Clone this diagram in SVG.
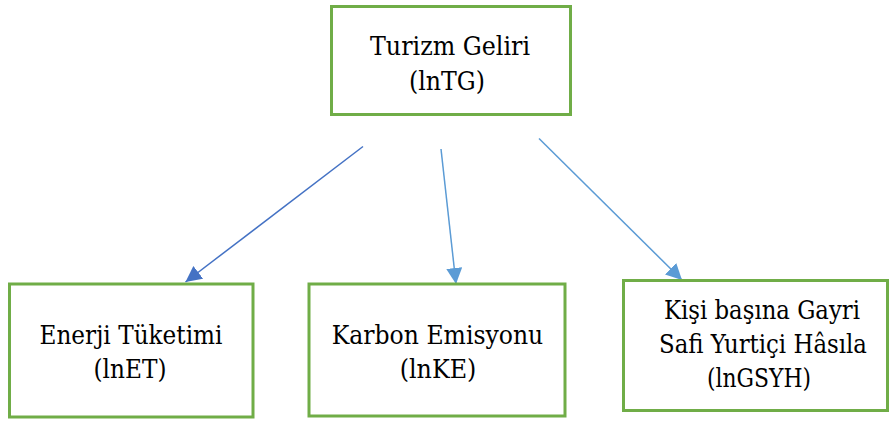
<svg xmlns="http://www.w3.org/2000/svg" width="890" height="421" viewBox="0 0 890 421">
<style>
.box{fill:#fff;stroke:#70AD47;stroke-width:3}
.t{font-family:'DejaVu Serif',serif;font-size:26.3px;fill:#000;text-anchor:middle}
.c1{stroke:#4472C4;stroke-width:1.5;fill:none}
.c2{stroke:#5B9BD5;stroke-width:1.5;fill:none}
</style>
<defs>
<marker id="a1" markerUnits="userSpaceOnUse" markerWidth="17" markerHeight="17" refX="16" refY="8" orient="auto" viewBox="0 0 17 17">
<path d="M0,0 L16,8 L0,16 z" fill="#4472C4"/>
</marker>
<marker id="a2" markerUnits="userSpaceOnUse" markerWidth="17" markerHeight="17" refX="16" refY="8" orient="auto" viewBox="0 0 17 17">
<path d="M0,0 L16,8 L0,16 z" fill="#5B9BD5"/>
</marker>
</defs>
<rect width="890" height="421" fill="#fff"/>
<g id="connectors">
<line class="c1" x1="363" y1="146.5" x2="185.5" y2="282" marker-end="url(#a1)"/>
<line class="c2" x1="441" y1="149" x2="456" y2="284" marker-end="url(#a2)"/>
<line class="c2" x1="539" y1="138.5" x2="682" y2="280" marker-end="url(#a2)"/>
</g>
<g id="turizm">
<rect class="box" x="331.5" y="6.5" width="239" height="108"/>
<text class="t" x="450" y="55" textLength="160" lengthAdjust="spacingAndGlyphs">Turizm Geliri</text>
<text class="t" x="447" y="90" textLength="76" lengthAdjust="spacingAndGlyphs">(lnTG)</text>
</g>
<g id="enerji">
<rect class="box" x="9.5" y="284" width="243.5" height="133"/>
<text class="t" x="131" y="344" textLength="183" lengthAdjust="spacingAndGlyphs">Enerji Tüketimi</text>
<text class="t" x="130" y="378" textLength="73" lengthAdjust="spacingAndGlyphs">(lnET)</text>
</g>
<g id="karbon">
<rect class="box" x="309" y="284" width="256" height="132"/>
<text class="t" x="437.5" y="344" textLength="211.6" lengthAdjust="spacingAndGlyphs">Karbon Emisyonu</text>
<text class="t" x="438" y="378" textLength="76.7" lengthAdjust="spacingAndGlyphs">(lnKE)</text>
</g>
<g id="gsyh">
<rect class="box" x="623.5" y="280.5" width="264" height="130"/>
<text class="t" x="762" y="318.5" textLength="196" lengthAdjust="spacingAndGlyphs">Kişi başına Gayri</text>
<text class="t" x="763" y="353" textLength="208" lengthAdjust="spacingAndGlyphs">Safi Yurtiçi Hâsıla</text>
<text class="t" x="759" y="386.5" textLength="104" lengthAdjust="spacingAndGlyphs">(lnGSYH)</text>
</g>
</svg>
